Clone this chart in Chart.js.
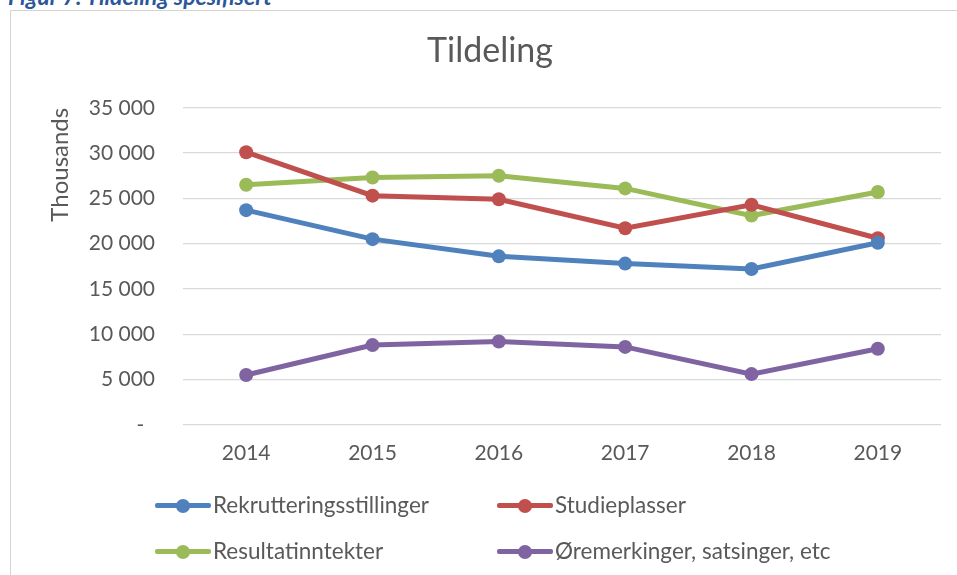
<!DOCTYPE html>
<html>
<head>
<meta charset="utf-8">
<script src="https://cdn.jsdelivr.net/npm/chart.js@4/dist/chart.umd.min.js"></script>
<style>
  html, body { margin: 0; padding: 0; background: #ffffff; overflow: hidden; }
  body { width: 957px; height: 575px; position: relative; font-family: Lato, "Open Sans", sans-serif; }
  #caption {
    position: absolute; left: 8px; top: -18px; line-height: 23px;
    font: italic bold 23px Lato, sans-serif; color: #2b579a; white-space: nowrap;
  }
  #frame {
    position: absolute; left: 10px; top: 10px; width: 1000px; height: 1000px;
    border-top: 1.5px solid #d4d4d4; border-left: 1.5px solid #d4d4d4;
  }
  #chartBox { position: absolute; left: 0; top: 0; width: 970px; height: 575px; }
  .legend-item { position: absolute; height: 26px; }
  .legend-line { position: absolute; top: 11px; height: 5px; border-radius: 2px; }
  .legend-dot { position: absolute; top: 6.5px; width: 14px; height: 14px; border-radius: 50%; }
  .legend-text {
    position: absolute; top: 0; line-height: 26px; font-size: 22.5px;
    color: #595959; white-space: nowrap;
  }
</style>
</head>
<body>
<div id="caption">Figur 7: Tildeling spesifisert</div>
<div id="frame"></div>
<div id="chartBox"><canvas id="tildelingChart" width="970" height="575"></canvas></div>
<div id="legend"></div>
<script>
const years = ["2014", "2015", "2016", "2017", "2018", "2019"];
const rekrutteringsstillinger = [23700, 20500, 18600, 17800, 17200, 20100];
const studieplasser = [30100, 25300, 24900, 21700, 24300, 20600];
const resultatinntekter = [26500, 27300, 27500, 26100, 23100, 25700];
const oremerkinger = [5500, 8800, 9200, 8600, 5600, 8400];

const seriesNames = ["Rekrutteringsstillinger", "Studieplasser", "Resultatinntekter", "Øremerkinger, satsinger, etc"];
const seriesColors = ["#4f81bd", "#c0504d", "#9bbb59", "#8064a2"];

// legend slots: [left of line, top of row]
const legendSlots = [[155, 492], [497, 492], [155, 538], [497, 538]];

function formatThousands(value) {
  if (value === 0) return "-  ";
  return String(value).replace(/\B(?=(\d{3})+(?!\d))/g, " ");
}

function buildDatasets() {
  const values = [rekrutteringsstillinger, studieplasser, resultatinntekter, oremerkinger];
  return values.map((data, index) => ({
    label: seriesNames[index],
    data: data,
    borderColor: seriesColors[index],
    backgroundColor: seriesColors[index],
    borderWidth: 5,
    pointRadius: 7,
    pointHoverRadius: 7,
    pointBorderWidth: 0,
    tension: 0
  }));
}

function renderLegend(chart) {
  const legend = document.querySelector("#legend");
  legend.innerHTML = chart.data.datasets
    .map((dataset, index) => {
      const [left, top] = legendSlots[index];
      return `
        <div class="legend-item" style="left:${left}px;top:${top}px;">
          <div class="legend-line" style="left:0;width:56px;background:${dataset.borderColor};"></div>
          <div class="legend-dot" style="left:21px;background:${dataset.borderColor};"></div>
          <div class="legend-text" style="left:58px;">${dataset.label}</div>
        </div>`;
    })
    .join("");
}

const gridColor = "#d9d9d9";
const textColor = "#595959";

const chart = new Chart(document.querySelector("#tildelingChart"), {
  type: "line",
  data: { labels: years, datasets: buildDatasets() },
  options: {
    responsive: false,
    animation: false,
    layout: { padding: { left: 10, right: 0, top: 0, bottom: 93 } },
    plugins: {
      legend: { display: false },
      tooltip: { enabled: false },
      title: {
        display: true,
        text: "Tildeling",
        color: textColor,
        font: { family: "Lato", size: 34, weight: "normal" },
        padding: { top: 31, bottom: 36 }
      }
    },
    scales: {
      x: {
        offset: true,
        grid: { display: false, drawTicks: false },
        border: { display: false },
        ticks: { color: textColor, padding: 16, font: { family: "Lato", size: 21 } }
      },
      y: {
        min: 0,
        max: 35000,
        afterFit: (scale) => { scale.width = 173; },
        grid: { color: gridColor, lineWidth: 1.3, drawTicks: false },
        border: { display: false },
        ticks: {
          stepSize: 5000,
          padding: 28,
          color: textColor,
          font: { family: "Lato", size: 21 },
          callback: (value) => formatThousands(value)
        },
        title: {
          display: true,
          text: "Thousands",
          align: "end",
          color: textColor,
          font: { family: "Lato", size: 24 },
          padding: { top: 36, bottom: 0 }
        }
      },
      yRight: {
        position: "right",
        display: true,
        afterFit: (scale) => { scale.width = 29; },
        grid: { display: false, drawTicks: false },
        border: { display: false },
        ticks: { display: false }
      }
    }
  }
});

renderLegend(chart);
</script>
</body>
</html>
